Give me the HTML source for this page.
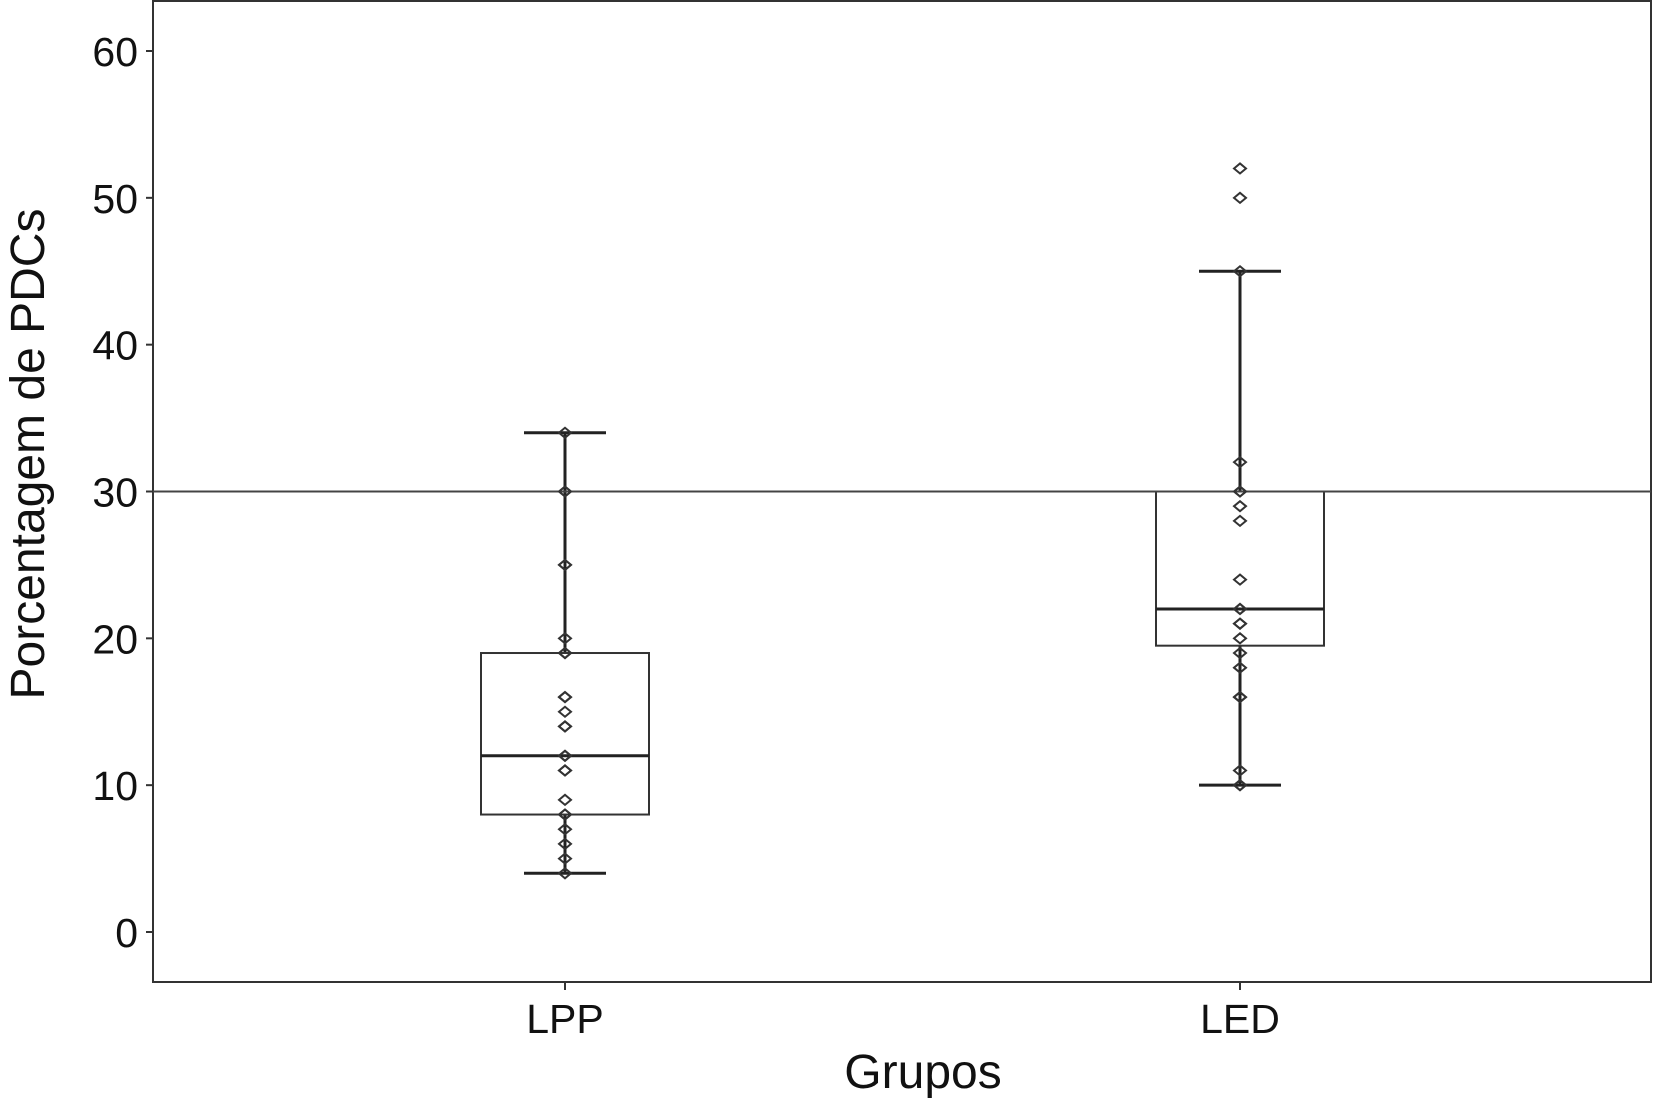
<!DOCTYPE html>
<html><head><meta charset="utf-8"><style>
html,body{margin:0;padding:0;background:#fff;}
svg{display:block;font-family:"Liberation Sans",sans-serif;}
</style></head><body>
<svg id="chart" width="1654" height="1098" viewBox="0 0 1654 1098">
<rect x="153" y="1" width="1498" height="981" fill="none" stroke="#333" stroke-width="2"/>
<g id="yaxis"></g>
<g id="xaxis"></g>
<g id="marks"></g>
<text x="44" y="454" font-size="48" text-anchor="middle" transform="rotate(-90 44 454)" fill="#111">Porcentagem de PDCs</text>
<text x="923" y="1088" font-size="48" text-anchor="middle" fill="#111">Grupos</text>
</svg>
<script>
const categories = ["LPP","LED"];
const yTicks = [0,10,20,30,40,50,60];
const refLine = 30;
const q1 = [8,19.5];
const medians = [12,22];
const q3 = [19,30];
const whiskLow = [4,10];
const whiskHigh = [34,45];
const lppPoints = [4,5,6,7,8,8,9,11,11,12,12,14,14,15,16,16,19,19,20,25,25,30,30,34];
const ledPoints = [10,10,11,16,16,18,19,20,21,21,22,22,24,28,29,30,30,32,45,50,52];
const points = [lppPoints, ledPoints];

const NS="http://www.w3.org/2000/svg";
const L=153,R=1651;
function y(v){return 932-(932-51)*v/60;}
function x(i){return [565,1240][i];}
function mk(tag,attrs,parent){const e=document.createElementNS(NS,tag);for(const k in attrs)e.setAttribute(k,attrs[k]);parent.appendChild(e);return e;}
const ya=document.getElementById('yaxis'),xa=document.getElementById('xaxis'),mg=document.getElementById('marks');
yTicks.forEach(t=>{
  const tk=mk('line',{x1:146,x2:153,y1:y(t),y2:y(t),stroke:'#333','stroke-width':2},ya);
  
  
  const tx=mk('text',{x:138,y:y(t)+15,'font-size':41,'text-anchor':'end',fill:'#111'},ya);
  tx.textContent=t;
  
  
});
categories.forEach((c,i)=>{
  const tk=mk('line',{x1:x(i),x2:x(i),y1:982,y2:990,stroke:'#333','stroke-width':2},xa);
  
  
  const tx=mk('text',{x:x(i),y:1033,'font-size':41,'text-anchor':'middle',fill:'#111'},xa);
  tx.textContent=c;
  
  
});
categories.forEach((c,i)=>{
  const cx=x(i);
  const w=mk('line',{x1:cx,x2:cx,y1:y(whiskLow[i]),y2:y(whiskHigh[i]),stroke:'#222','stroke-width':3},mg);
  
  
  [whiskLow[i],whiskHigh[i]].forEach(v=>{
    const cap=mk('line',{x1:cx-41,x2:cx+41,y1:y(v),y2:y(v),stroke:'#222','stroke-width':3},mg);
    
    
  });
  const b=mk('rect',{x:cx-84,y:y(q3[i]),width:168,height:y(q1[i])-y(q3[i]),fill:'#fff',stroke:'#333','stroke-width':2},mg);
  
  
  const m=mk('line',{x1:cx-84,x2:cx+84,y1:y(medians[i]),y2:y(medians[i]),stroke:'#222','stroke-width':3},mg);
  
  
});
const rl=mk('line',{x1:L,x2:R,y1:y(refLine),y2:y(refLine),stroke:'#444','stroke-width':2},mg);


points.forEach((arr,i)=>{
  arr.forEach(v=>{
    const cx=x(i),cy=y(v);
    const p=mk('path',{d:`M${cx-6} ${cy} L${cx} ${cy-5} L${cx+6} ${cy} L${cx} ${cy+5} Z`,fill:'none',stroke:'#333','stroke-width':2},mg);
    
    
  });
});
</script>
</body></html>
